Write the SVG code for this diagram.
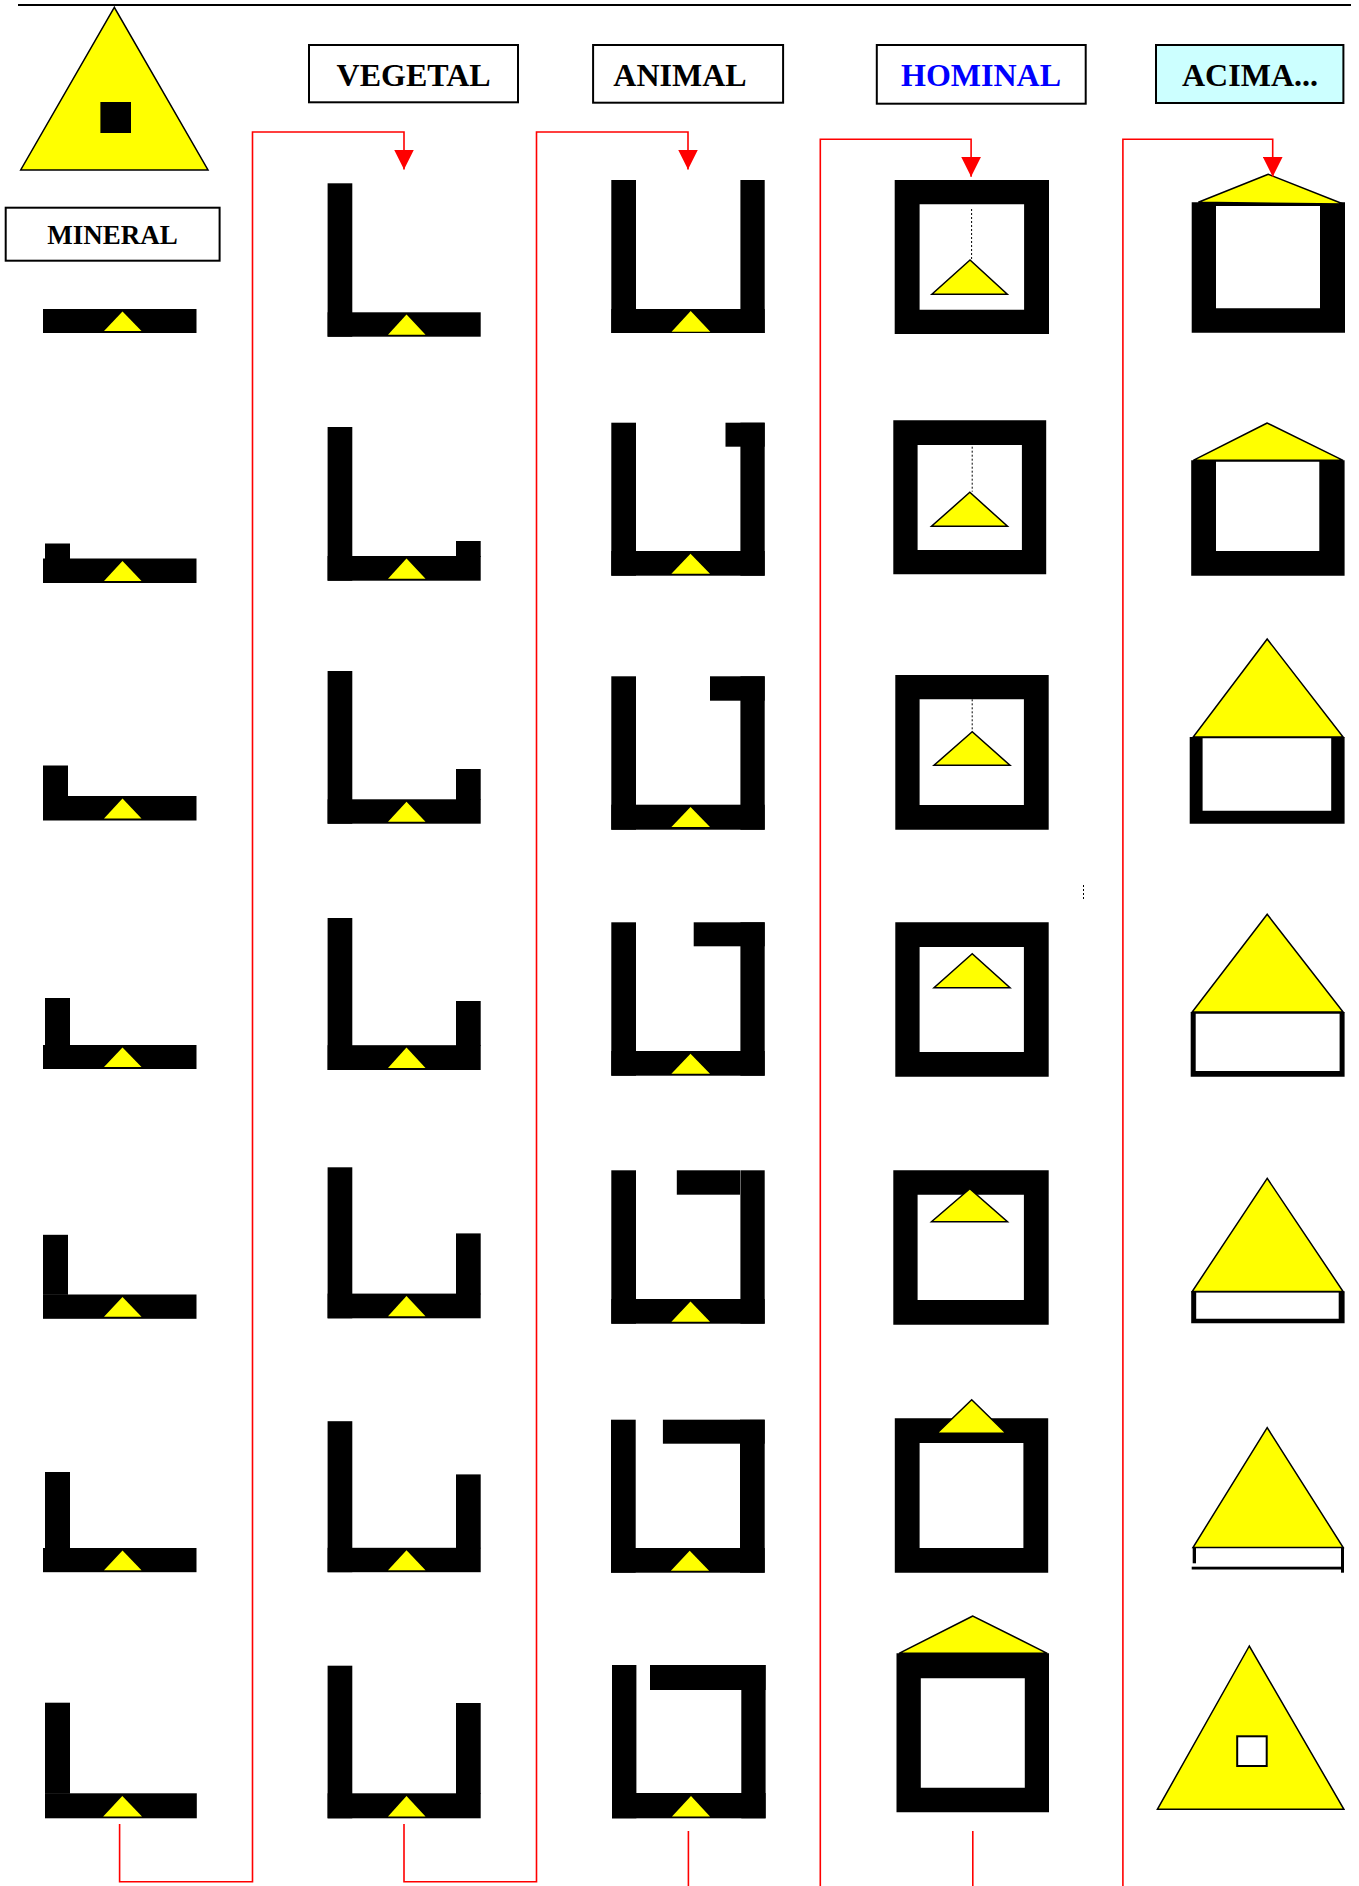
<svg xmlns="http://www.w3.org/2000/svg" width="1359" height="1886" viewBox="0 0 1359 1886">
<style>
.bg{fill:#fff}
.blk{fill:#000}
.ev{fill:#000;fill-rule:evenodd}
.yel{fill:#FFFF00}
.ys{fill:#FFFF00;stroke:#000;stroke-width:1.5;stroke-linejoin:miter}
.hdr{fill:#fff;stroke:#000;stroke-width:2}
.lbl{font-family:"Liberation Serif","Times New Roman",serif;font-weight:bold;font-size:32px;text-anchor:middle;fill:#000}
.dot{stroke:#000;stroke-width:1;stroke-dasharray:2 2;fill:none}
.red{fill:none;stroke:#FF0000;stroke-width:1.6}
</style>
<defs>
<marker id="ah" markerUnits="userSpaceOnUse" markerWidth="20" markerHeight="20" refX="20" refY="10" orient="auto">
<path d="M0,0 L20,10 L0,20 z" fill="#FF0000"/>
</marker>
</defs>
<rect class="bg" x="0" y="0" width="1359" height="1886"/>
<line x1="18" y1="5" x2="1351" y2="5" stroke="#000" stroke-width="2"/>

<g id="emblem">
<polygon class="ys" points="114.3,7.3 20.7,170 208,170"/>
<rect class="blk" x="100.4" y="102" width="30.6" height="31"/>
</g>

<g id="hdr-mineral"><rect class="hdr" x="5.7" y="207.7" width="213.9" height="53"/><text class="lbl" x="112.6" y="244" style="font-size:27px">MINERAL</text></g>
<g id="hdr-vegetal"><rect class="hdr" x="309" y="45" width="209" height="57.3"/><text class="lbl" x="413.6" y="86">VEGETAL</text></g>
<g id="hdr-animal"><rect class="hdr" x="593.1" y="45" width="190" height="57.7"/><text class="lbl" x="680" y="86">ANIMAL</text></g>
<g id="hdr-hominal"><rect class="hdr" x="876.8" y="45" width="208.9" height="58.7"/><text class="lbl" x="981" y="86" style="fill:#0000FF">HOMINAL</text></g>
<g id="hdr-acima"><rect class="hdr" x="1156" y="45" width="187.4" height="58" style="fill:#CCFFFF"/><text class="lbl" x="1250" y="86">ACIMA...</text></g>

<!-- MINERAL column -->
<g id="min1"><rect class="blk" x="43" y="309" width="153.5" height="24"/><polygon class="yel" points="122.5,311.5 104,331 141.5,331"/></g>
<g id="min2"><rect class="blk" x="43" y="558.5" width="153.5" height="24.5"/><rect class="blk" x="45" y="543.5" width="25" height="16"/><polygon class="yel" points="122.5,561 104,581 141.5,581"/></g>
<g id="min3"><rect class="blk" x="43" y="796" width="153.5" height="24.5"/><rect class="blk" x="43" y="765.5" width="25" height="31"/><polygon class="yel" points="122.5,798.5 104,818.5 141.5,818.5"/></g>
<g id="min4"><rect class="blk" x="43" y="1045" width="153.5" height="24"/><rect class="blk" x="45" y="998" width="25" height="48"/><polygon class="yel" points="122.5,1047.5 104,1067 141.5,1067"/></g>
<g id="min5"><rect class="blk" x="43" y="1294.5" width="153.5" height="24.3"/><rect class="blk" x="43" y="1234.8" width="25" height="60"/><polygon class="yel" points="122.5,1297 104,1316.8 141.5,1316.8"/></g>
<g id="min6"><rect class="blk" x="43" y="1548" width="153.5" height="24.2"/><rect class="blk" x="45" y="1472" width="25" height="77"/><polygon class="yel" points="122.5,1550.5 104,1570.2 141.5,1570.2"/></g>
<g id="min7"><rect class="blk" x="45" y="1793.3" width="151.8" height="25"/><rect class="blk" x="45" y="1702.7" width="25" height="91"/><polygon class="yel" points="122.3,1796 103.2,1816.5 142,1816.5"/></g>

<!-- VEGETAL column -->
<g id="veg1"><rect class="blk" x="327.6" y="183.3" width="24.7" height="153.4"/><rect class="blk" x="327.6" y="312.3" width="153.1" height="24.4"/><polygon class="yel" points="406.5,314.5 388,334.7 425.5,334.7"/></g>
<g id="veg2"><rect class="blk" x="327.6" y="427" width="24.7" height="153.7"/><rect class="blk" x="327.6" y="556" width="153.1" height="24.7"/><rect class="blk" x="456" y="541" width="24.7" height="16"/><polygon class="yel" points="406.5,558.5 388,578.7 425.5,578.7"/></g>
<g id="veg3"><rect class="blk" x="327.6" y="671" width="24.7" height="152.7"/><rect class="blk" x="327.6" y="799.3" width="153.1" height="24.4"/><rect class="blk" x="456" y="769" width="24.7" height="31"/><polygon class="yel" points="406.5,801.7 388,821.7 425.5,821.7"/></g>
<g id="veg4"><rect class="blk" x="327.6" y="918" width="24.7" height="152"/><rect class="blk" x="327.6" y="1045.2" width="153.1" height="24.8"/><rect class="blk" x="456" y="1001" width="24.7" height="45"/><polygon class="yel" points="406.5,1047.5 388,1068 425.5,1068"/></g>
<g id="veg5"><rect class="blk" x="327.6" y="1167.3" width="24.7" height="151"/><rect class="blk" x="327.6" y="1293.6" width="153.1" height="24.7"/><rect class="blk" x="456" y="1233.4" width="24.7" height="61"/><polygon class="yel" points="406.5,1296 388,1316.3 425.5,1316.3"/></g>
<g id="veg6"><rect class="blk" x="327.6" y="1421.2" width="24.7" height="151"/><rect class="blk" x="327.6" y="1547.8" width="153.1" height="24.4"/><rect class="blk" x="456" y="1474.4" width="24.7" height="74"/><polygon class="yel" points="406.5,1550.3 388,1570.2 425.5,1570.2"/></g>
<g id="veg7"><rect class="blk" x="327.6" y="1665.7" width="24.7" height="152.6"/><rect class="blk" x="327.6" y="1793.3" width="153.1" height="25"/><rect class="blk" x="456" y="1703" width="24.7" height="91"/><polygon class="yel" points="406.5,1796 388,1816.5 425.5,1816.5"/></g>

<!-- ANIMAL column -->
<g id="ani1"><rect class="blk" x="611.3" y="180" width="24.7" height="153"/><rect class="blk" x="740.4" y="180" width="24.3" height="153"/><rect class="blk" x="611.3" y="309" width="153.4" height="24"/><polygon class="yel" points="690.7,311 671.6,331.7 710.3,331.7"/></g>
<g id="ani2"><rect class="blk" x="611.3" y="422.7" width="24.7" height="153"/><rect class="blk" x="740.4" y="422.7" width="24.3" height="153"/><rect class="blk" x="725.5" y="422.7" width="39.2" height="24"/><rect class="blk" x="611.3" y="551" width="153.4" height="24.7"/><polygon class="yel" points="690.5,553.7 671.4,573.7 710,573.7"/></g>
<g id="ani3"><rect class="blk" x="611.3" y="676.3" width="24.7" height="153.4"/><rect class="blk" x="740.4" y="676.3" width="24.3" height="153.4"/><rect class="blk" x="710" y="676.3" width="54.7" height="24.4"/><rect class="blk" x="611.3" y="804.7" width="153.4" height="25"/><polygon class="yel" points="690.5,807 671.4,827 710,827"/></g>
<g id="ani4"><rect class="blk" x="611.3" y="922.3" width="24.7" height="153.4"/><rect class="blk" x="740.4" y="922.3" width="24.3" height="153.4"/><rect class="blk" x="693.7" y="922.3" width="71" height="24"/><rect class="blk" x="611.3" y="1051" width="153.4" height="24.7"/><polygon class="yel" points="690.5,1053.7 671.4,1073.7 710,1073.7"/></g>
<g id="ani5"><rect class="blk" x="611.3" y="1170.3" width="24.7" height="153.4"/><rect class="blk" x="740.4" y="1170.3" width="24.3" height="153.4"/><rect class="blk" x="676.8" y="1170.3" width="63.2" height="24.4"/><rect class="blk" x="611.3" y="1299" width="153.4" height="24.7"/><polygon class="yel" points="690.5,1301.5 671.4,1321.7 710,1321.7"/></g>
<g id="ani6"><rect class="blk" x="611" y="1419.7" width="24.7" height="153"/><rect class="blk" x="740" y="1419.7" width="24.7" height="153"/><rect class="blk" x="662.9" y="1419.7" width="101.8" height="24"/><rect class="blk" x="611" y="1548" width="153.7" height="24.7"/><polygon class="yel" points="689.7,1550.7 670.9,1570.7 709.1,1570.7"/></g>
<g id="ani7"><rect class="blk" x="612" y="1665" width="24.4" height="153.3"/><rect class="blk" x="741.3" y="1665" width="24.3" height="153.3"/><rect class="blk" x="650" y="1665" width="115.6" height="25"/><rect class="blk" x="612" y="1793" width="153.6" height="25.3"/><polygon class="yel" points="691,1796 672,1816.5 710,1816.5"/></g>

<!-- HOMINAL column -->
<g id="hom1"><path class="ev" d="M894.7,180 H1049 V334 H894.7 Z M919.6,204.3 V309.7 H1024.1 V204.3 Z"/><line class="dot" x1="971.6" y1="209" x2="971.6" y2="260"/><polygon class="ys" points="970,260 931.9,294.3 1007.3,294.3"/></g>
<g id="hom2"><path class="ev" d="M893.3,420.3 H1046.2 V574.3 H893.3 Z M917.6,445 V550 H1021.9 V445 Z"/><line class="dot" x1="972.2" y1="446.7" x2="972.2" y2="491.7"/><polygon class="ys" points="969.8,492.3 931.5,526.3 1007.5,526.3"/></g>
<g id="hom3"><path class="ev" d="M895.3,675 H1048.7 V829.7 H895.3 Z M919.6,699.3 V805 H1023.9 V699.3 Z"/><line class="dot" x1="972.2" y1="699.3" x2="972.2" y2="731.7"/><polygon class="ys" points="972.2,731.7 934,765.3 1010,765.3"/></g>
<g id="hom4"><path class="ev" d="M895.3,922.3 H1048.7 V1076.7 H895.3 Z M919.6,947 V1052 H1023.9 V947 Z"/><polygon class="ys" points="972.2,953.7 934,987.7 1010,987.7"/></g>
<g id="hom5"><path class="ev" d="M893.3,1170.3 H1048.7 V1324.7 H893.3 Z M917.6,1194.7 V1300 H1023.9 V1194.7 Z"/><polygon class="ys" points="969.8,1188.7 931.5,1221.7 1007.5,1221.7"/></g>
<g id="hom6"><path class="ev" d="M894.8,1418.3 H1048.2 V1572.7 H894.8 Z M919.6,1443 V1548 H1023.4 V1443 Z"/><polygon class="ys" points="971.7,1399.7 937,1433.3 1006,1433.3"/></g>
<g id="hom7"><path class="ev" d="M896.5,1653.3 H1049 V1812.3 H896.5 Z M920.8,1678.3 V1787.7 H1024.8 V1678.3 Z"/><polygon class="ys" points="972.8,1616 899,1653.3 1047.3,1653.3"/></g>
<line class="dot" x1="1083.5" y1="885" x2="1083.5" y2="899"/>

<!-- ACIMA column -->
<g id="aci1"><path class="ev" d="M1191.7,202.3 H1345 V332.7 H1191.7 Z M1216,206 V308.3 H1320 V206 Z"/><polygon class="ys" points="1268.3,174.3 1198.3,202.3 1343.3,204"/></g>
<g id="aci2"><path class="ev" d="M1191.2,460.3 H1344.6 V575.7 H1191.2 Z M1216,461.7 V551 H1319.3 V461.7 Z"/><polygon class="ys" points="1267.2,423 1193.2,460.3 1343.1,460.3"/></g>
<g id="aci3"><path class="ev" d="M1189.7,737 H1344.6 V823.7 H1189.7 Z M1202.6,738.3 V810.7 H1331.2 V738.3 Z"/><polygon class="ys" points="1267.2,639 1193.2,737 1343.1,737"/></g>
<g id="aci4"><path class="ev" d="M1190.7,1012 H1344.6 V1076.7 H1190.7 Z M1195.7,1013.7 V1071 H1339.6 V1013.7 Z"/><polygon class="ys" points="1267.2,914.3 1192.2,1012 1343.1,1012"/></g>
<g id="aci5"><path class="ev" d="M1191.2,1291.3 H1344.6 V1323.3 H1191.2 Z M1196.2,1292.6 V1318.7 H1338.7 V1292.6 Z"/><polygon class="ys" points="1267.2,1178.3 1192.2,1291.5 1343.1,1291.5"/></g>
<g id="aci6"><rect class="blk" x="1192.7" y="1547" width="3.3" height="16.3"/><rect class="blk" x="1191.7" y="1566.7" width="151.6" height="2.8"/><rect class="blk" x="1341" y="1547" width="3" height="25.7"/><polygon class="ys" points="1267.2,1427.7 1193,1547.5 1343.2,1547.5"/></g>
<g id="aci7"><polygon class="ys" points="1249.3,1646 1157.4,1809.3 1343.9,1809.3"/><rect x="1237.2" y="1736.3" width="29.5" height="29.7" fill="#fff" stroke="#000" stroke-width="2"/></g>

<g id="connectors">
<path class="red" d="M119.6,1824 V1881.7 H252.5 V132 H404 V169.5" marker-end="url(#ah)"/>
<path class="red" d="M404,1824 V1881.7 H536.5 V132 H688 V169.5" marker-end="url(#ah)"/>
<path class="red" d="M688.4,1831 V1886"/>
<path class="red" d="M820.3,1886 V139.3 H971.1 V176.7" marker-end="url(#ah)"/>
<path class="red" d="M972.8,1831 V1886"/>
<path class="red" d="M1122.9,1886 V139.3 H1272.7 V176.7" marker-end="url(#ah)"/>
</g>
</svg>
